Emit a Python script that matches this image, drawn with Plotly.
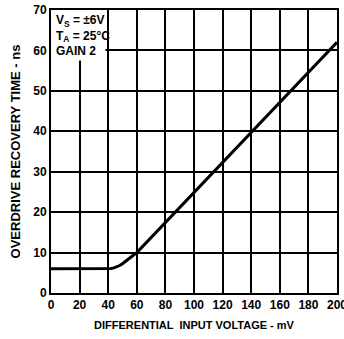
import plotly.graph_objects as go

# Data
voltage_mv = [0, 10, 20, 30, 40, 42, 44, 46, 48, 50, 52, 54, 56, 58, 60, 80, 100, 120, 140, 160, 180, 200]
recovery_ns = [6.0, 6.0, 6.0, 6.0, 6.0, 6.05, 6.2, 6.45, 6.8, 7.25, 7.75, 8.3, 8.9, 9.45, 10.0, 17.4, 24.9, 32.3, 39.7, 47.1, 54.6, 62.0]
x_ticks = [0, 20, 40, 60, 80, 100, 120, 140, 160, 180, 200]
y_ticks = [0, 10, 20, 30, 40, 50, 60, 70]
note_lines = ["V<sub>S</sub> = ±6V", "T<sub>A</sub> = 25°C", "GAIN 2"]

FONT = "Liberation Sans, Arial, sans-serif"

fig = go.Figure()
fig.add_trace(go.Scatter(
    x=voltage_mv, y=recovery_ns, mode="lines",
    line=dict(color="black", width=3), showlegend=False, hoverinfo="skip",
))

axis_common = dict(
    showgrid=True, gridcolor="black", gridwidth=1.5,
    showline=True, linecolor="black", linewidth=2, mirror=True,
    zeroline=False, ticks="", automargin=False,
    ticklabeloverflow="allow",
    tickfont=dict(family=FONT, size=12, color="black", weight="bold"),
)

fig.update_xaxes(range=[0, 200], tickvals=x_ticks, ticktext=[str(v) for v in x_ticks],
                 title=dict(text="DIFFERENTIAL  INPUT VOLTAGE - mV",
                            font=dict(family=FONT, size=11, color="black", weight="bold"), standoff=10),
                 **axis_common)
fig.update_yaxes(range=[0, 70], tickvals=y_ticks, ticktext=[str(v) for v in y_ticks],
                 title=dict(text="OVERDRIVE RECOVERY TIME - ns",
                            font=dict(family=FONT, size=13, color="black", weight="bold"), standoff=10),
                 **axis_common)

# white box behind the conditions note
fig.add_shape(type="rect", xref="x", yref="y", x0=0, x1=38, y0=57.5, y1=70,
              fillcolor="white", line=dict(width=0), layer="between")

fig.add_annotation(x=2, y=69.8, xref="x", yref="y", xanchor="left", yanchor="top",
                   text="<br>".join(note_lines), showarrow=False, align="left",
                   font=dict(family=FONT, size=12, color="black", weight="bold"))

fig.update_layout(
    width=344, height=339,
    margin=dict(l=51, r=7, t=10, b=46),
    plot_bgcolor="white", paper_bgcolor="white",
    font=dict(family=FONT, color="black"),
)

# remove the default page margin so the figure starts at the window corner
fig.write_html("out.html",
               config={"displayModeBar": False},
               post_script="document.body.style.margin='0';document.body.style.overflow='hidden';")
